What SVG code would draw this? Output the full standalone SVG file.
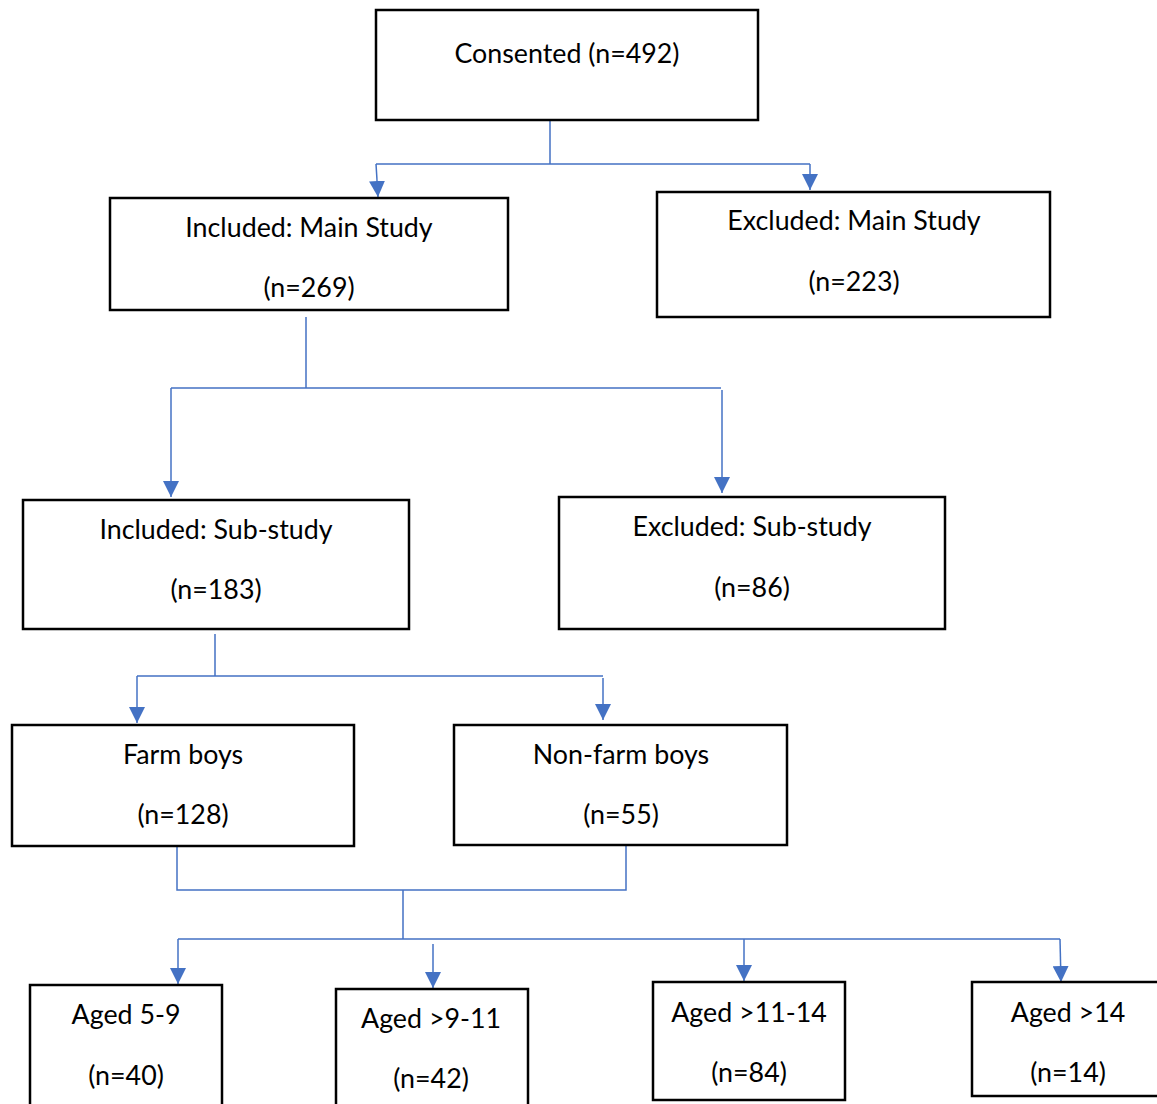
<svg xmlns="http://www.w3.org/2000/svg" width="1157" height="1104" viewBox="0 0 1157 1104">
<style>
.box{fill:#fff;stroke:#000;stroke-width:2.5}
.t{font-family:Lato,"Liberation Sans",sans-serif;font-size:26.8px;fill:#000;text-anchor:middle}
.c{fill:none;stroke:#4472C4;stroke-width:1.5}
</style>
<defs>
<marker id="ah" markerUnits="userSpaceOnUse" markerWidth="16" markerHeight="16" viewBox="0 0 16 16" refX="16" refY="8" orient="auto">
<path d="M0,0 L16,8 L0,16 Z" fill="#4472C4"/>
</marker>
</defs>
<rect width="1157" height="1104" fill="#fff"/>
<g id="connectors">
<path class="c" d="M550,120 V164 M376,164 H810 M306,317 V388 M171,388 H721 M215,634 V676 M137,676 H603 M177,846 V890 H626 V843 M403,890 V939 M178,939 H1060"/>
<path class="c" marker-end="url(#ah)" d="M376,164 L378,197"/>
<path class="c" marker-end="url(#ah)" d="M810,164 L810,190"/>
<path class="c" marker-end="url(#ah)" d="M171,388 L171,497"/>
<path class="c" marker-end="url(#ah)" d="M722,390 L722,493"/>
<path class="c" marker-end="url(#ah)" d="M137,676 L137,723"/>
<path class="c" marker-end="url(#ah)" d="M603,678 L603,720"/>
<path class="c" marker-end="url(#ah)" d="M178,939 L178,984"/>
<path class="c" marker-end="url(#ah)" d="M433,944 L433,988"/>
<path class="c" marker-end="url(#ah)" d="M744,939 L744,981"/>
<path class="c" marker-end="url(#ah)" d="M1060,939 L1061,982"/>
</g>
<g id="consented"><rect class="box" x="376" y="10" width="382" height="110"/><text class="t" x="567" y="63">Consented (n=492)</text></g>
<g id="inc-main"><rect class="box" x="110" y="198" width="398" height="112"/><text class="t" x="309" y="237">Included: Main Study</text><text class="t" x="309" y="297">(n=269)</text></g>
<g id="exc-main"><rect class="box" x="657" y="192" width="393" height="125"/><text class="t" x="854" y="230">Excluded: Main Study</text><text class="t" x="854" y="291">(n=223)</text></g>
<g id="inc-sub"><rect class="box" x="23" y="500" width="386" height="129"/><text class="t" x="216" y="539">Included: Sub-study</text><text class="t" x="216" y="599">(n=183)</text></g>
<g id="exc-sub"><rect class="box" x="559" y="497" width="386" height="132"/><text class="t" x="752" y="536">Excluded: Sub-study</text><text class="t" x="752" y="597">(n=86)</text></g>
<g id="farm"><rect class="box" x="12" y="725" width="342" height="121"/><text class="t" x="183" y="764">Farm boys</text><text class="t" x="183" y="824">(n=128)</text></g>
<g id="nonfarm"><rect class="box" x="454" y="725" width="333" height="120"/><text class="t" x="621" y="764">Non-farm boys</text><text class="t" x="621" y="824">(n=55)</text></g>
<g id="aged5-9"><rect class="box" x="30" y="985" width="192" height="130"/><text class="t" x="126" y="1024">Aged 5-9</text><text class="t" x="126" y="1085">(n=40)</text></g>
<g id="aged9-11"><rect class="box" x="336" y="989" width="192" height="130"/><text class="t" x="431" y="1028">Aged &gt;9-11</text><text class="t" x="431" y="1088">(n=42)</text></g>
<g id="aged11-14"><rect class="box" x="653" y="982" width="192" height="118"/><text class="t" x="749" y="1022">Aged &gt;11-14</text><text class="t" x="749" y="1082">(n=84)</text></g>
<g id="aged14"><rect class="box" x="972" y="982" width="200" height="114"/><text class="t" x="1068" y="1022">Aged &gt;14</text><text class="t" x="1068" y="1082">(n=14)</text></g>
</svg>
